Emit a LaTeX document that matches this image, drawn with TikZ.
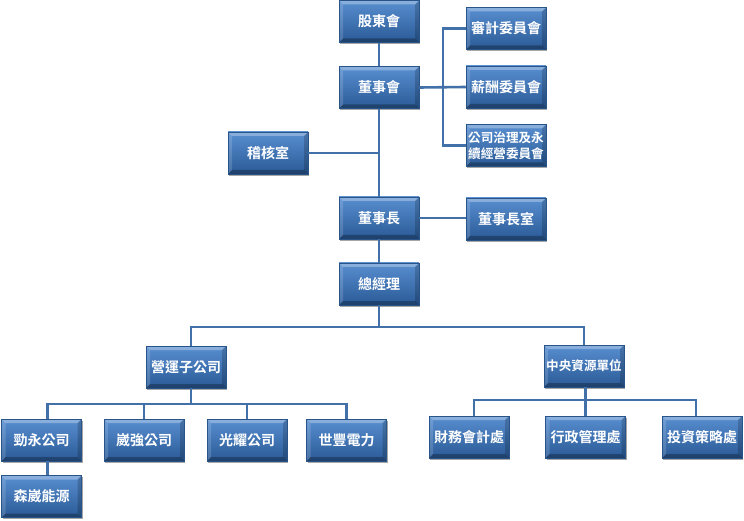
\documentclass[tikz,border=0pt]{standalone}
\usepackage{fontspec}
\newfontfamily\cjk{Noto Sans CJK TC}[BoldFont={Noto Sans CJK TC Bold}]
\usetikzlibrary{shadows}
\definecolor{boxtop}{RGB}{88,142,208}
\definecolor{boxbot}{RGB}{42,90,150}
\definecolor{boxedge}{RGB}{40,84,138}
\definecolor{linkc}{RGB}{66,112,168}
\tikzset{
  orgbox/.style={draw=boxedge, line width=0.5pt, top color=boxtop, bottom color=boxbot,
    minimum width=80pt, minimum height=42pt, inner sep=1pt, text=white, align=center,
    font=\cjk\bfseries\fontsize{14}{17}\selectfont,
    drop shadow={shadow xshift=1.2pt, shadow yshift=-1.8pt, opacity=0.35, fill=black},
    path picture={
      \fill[white,opacity=0.30] (path picture bounding box.north west) -- (path picture bounding box.north east)
        -- ([shift={(-4pt,-4pt)}]path picture bounding box.north east) -- ([shift={(4pt,-4pt)}]path picture bounding box.north west) -- cycle;
      \fill[white,opacity=0.15] (path picture bounding box.north west) -- (path picture bounding box.south west)
        -- ([shift={(4pt,4pt)}]path picture bounding box.south west) -- ([shift={(4pt,-4pt)}]path picture bounding box.north west) -- cycle;
      \fill[black,opacity=0.18] (path picture bounding box.north east) -- (path picture bounding box.south east)
        -- ([shift={(-4pt,4pt)}]path picture bounding box.south east) -- ([shift={(-4pt,-4pt)}]path picture bounding box.north east) -- cycle;
      \fill[black,opacity=0.28] (path picture bounding box.south west) -- (path picture bounding box.south east)
        -- ([shift={(-4pt,4pt)}]path picture bounding box.south east) -- ([shift={(4pt,4pt)}]path picture bounding box.south west) -- cycle;
    }},
  smalltext/.style={font=\cjk\bfseries\fontsize{12.6}{16}\selectfont},
  link/.style={draw=linkc, line width=2.6pt}
}
\begin{document}
\begin{tikzpicture}[x=1pt,y=-1pt]
\useasboundingbox (0,0) rectangle (744,521);
% nodes
\node[orgbox] (sh)  at (379,21.5) {股東會};
\node[orgbox] (bd)  at (379,87.5) {董事會};
\node[orgbox] (aud) at (506,28.5) {審計委員會};
\node[orgbox] (rem) at (506,87) {薪酬委員會};
\node[orgbox,smalltext] (gov) at (506,145.5) {公司治理及永\\續經營委員會};
\node[orgbox] (adt) at (268,153) {稽核室};
\node[orgbox] (ch)  at (379,218) {董事長};
\node[orgbox] (cho) at (506,219) {董事長室};
\node[orgbox] (gm)  at (379,284) {總經理};
\node[orgbox] (op)  at (186,367) {營運子公司};
\node[orgbox,smalltext] (cr) at (584,366) {中央資源單位};
\node[orgbox] (k1) at (41.5,440) {勁永公司};
\node[orgbox] (k2) at (144,440) {崴強公司};
\node[orgbox] (k3) at (247,440) {光耀公司};
\node[orgbox] (k4) at (346.5,440) {世豐電力};
\node[orgbox] (k5) at (41.5,496.5) {森崴能源};
\node[orgbox] (f1) at (469,437) {財務會計處};
\node[orgbox] (f2) at (585.5,437) {行政管理處};
\node[orgbox] (f3) at (702,437) {投資策略處};
% helper coordinates
\coordinate (bx) at (443,0);
\coordinate (b1) at (0,327);
\coordinate (b2) at (0,404);
\coordinate (b3) at (0,400);
% connectors
\draw[link] (sh.south) -- (bd.north);
\draw[link] (bd.south) -- (ch.north);
\draw[link] (adt.east) -- (adt.east -| bd.south);
\draw[link] (bd.east) -- (rem.west);
\draw[link] (aud.west) -- (aud.west -| bx) -- (gov.west -| bx) -- (gov.west);
\draw[link] (ch.east) -- (ch.east -| cho.west);
\draw[link] (ch.south) -- (gm.north);
\draw[link] (gm.south) -- (gm.south |- b1);
\draw[link] ([xshift=5pt]op.north) |- (cr.north |- b1) -- (cr.north);
\draw[link] ([xshift=5pt]op.south) -- ([xshift=5pt]op.south |- b2);
\draw[link] ([xshift=6pt]k1.north) |- (k4.north |- b2) -- (k4.north);
\draw[link] (k2.north) -- (k2.north |- b2);
\draw[link] (k3.north) -- (k3.north |- b2);
\draw[link] ([xshift=6pt]k1.south) -- ([xshift=6pt]k5.north);
\draw[link] (f2.north) -- (f2.north |- cr.south);
\draw[link] ([xshift=5pt]f1.north) |- ([xshift=-6pt]f3.north |- b3) -- ([xshift=-6pt]f3.north);
\end{tikzpicture}
\end{document}
